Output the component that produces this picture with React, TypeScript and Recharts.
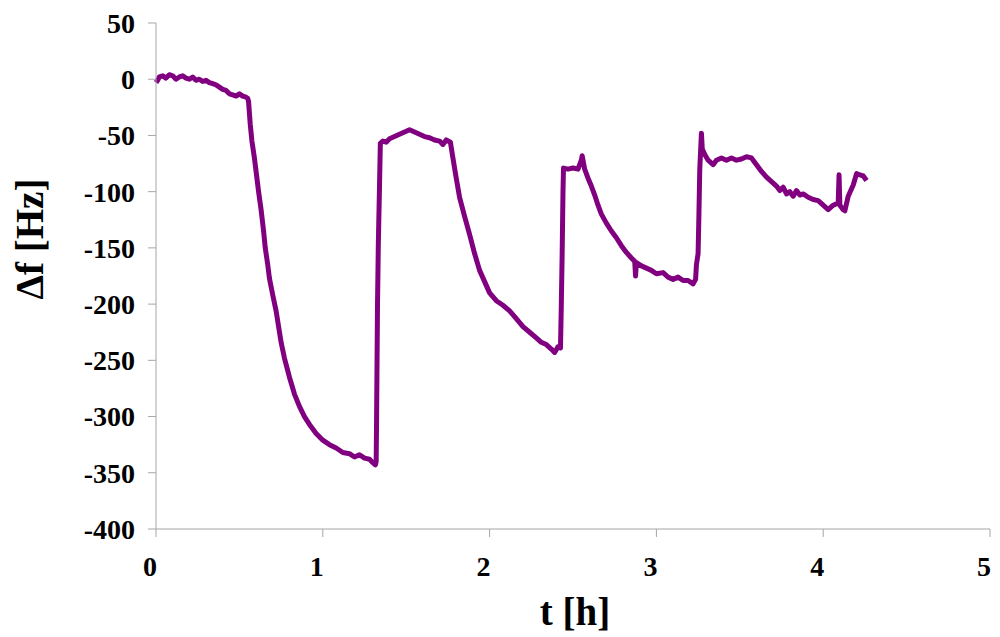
import React from "react";
import { LineChart, Line, XAxis, YAxis } from "recharts";

// time [h]
const tHours = [
  0, 0.01, 0.02, 0.04, 0.06, 0.08, 0.1, 0.12, 0.14, 0.16, 0.18, 0.2, 0.22, 0.24,
  0.26, 0.28, 0.3, 0.32, 0.34, 0.36, 0.38, 0.4, 0.42, 0.44, 0.46, 0.48, 0.5,
  0.52, 0.54, 0.55, 0.555, 0.565, 0.575, 0.59, 0.6, 0.615, 0.63, 0.645, 0.655,
  0.67, 0.68, 0.7, 0.72, 0.735, 0.75, 0.77, 0.8, 0.83, 0.86, 0.89, 0.92, 0.96,
  1.0, 1.04, 1.08, 1.12, 1.16, 1.19, 1.22, 1.25, 1.28, 1.3, 1.315, 1.32, 1.322,
  1.328, 1.333, 1.34, 1.345, 1.36, 1.38, 1.4, 1.43, 1.46, 1.49, 1.52, 1.55,
  1.58, 1.61, 1.64, 1.67, 1.7, 1.72, 1.74, 1.765, 1.78, 1.8, 1.82, 1.85, 1.88,
  1.91, 1.94, 1.97, 2.0, 2.04, 2.08, 2.12, 2.16, 2.2, 2.24, 2.28, 2.31, 2.34,
  2.37, 2.39, 2.41, 2.425, 2.43, 2.435, 2.44, 2.443, 2.47, 2.5, 2.53, 2.55,
  2.555, 2.57, 2.59, 2.61, 2.63, 2.65, 2.67, 2.7, 2.73, 2.76, 2.79, 2.82, 2.85,
  2.87, 2.875, 2.88, 2.91, 2.94, 2.97, 3.0, 3.04, 3.07, 3.1, 3.13, 3.16, 3.19,
  3.22, 3.235, 3.24, 3.25, 3.255, 3.26, 3.27, 3.275, 3.29, 3.31, 3.34, 3.36,
  3.39, 3.42, 3.45, 3.48, 3.51, 3.54, 3.57, 3.6, 3.63, 3.66, 3.69, 3.72, 3.74,
  3.76, 3.78, 3.8, 3.82, 3.84, 3.86, 3.88, 3.91, 3.94, 3.97, 4.0, 4.03, 4.06,
  4.09, 4.095, 4.1, 4.12, 4.13, 4.15, 4.18, 4.2, 4.22, 4.24, 4.26,
];

// frequency shift [Hz]
const deltaF = [
  -3, -1, 2, 3, 1, 4, 3, 0, 2, 3, 1, 0, 2, -1, 0, -2, -1, -3, -4, -5, -7, -9,
  -10, -13, -14, -15, -13, -15, -16, -17, -20, -40, -55, -70, -82, -100, -116,
  -135, -150, -165, -177, -192, -206, -220, -234, -248, -265, -280, -291, -300,
  -307, -315, -321, -325, -328, -332, -333, -336, -334, -337, -338, -341, -343,
  -340, -310, -200, -146, -95, -57, -55, -56, -53, -51, -49, -47, -45, -47, -49,
  -51, -52, -54, -55, -58, -54, -56, -70, -88, -105, -122, -138, -155, -170,
  -180, -190, -197, -201, -206, -213, -220, -225, -230, -234, -236, -240, -243,
  -238, -239, -200, -155, -100, -79, -80, -79, -80, -72, -68, -80, -88, -95,
  -103, -112, -120, -128, -135, -141, -148, -154, -159, -162, -175, -163, -166,
  -168, -170, -173, -172, -176, -178, -176, -179, -179, -182, -178, -165, -155,
  -120, -80, -48, -62, -67, -72, -76, -72, -70, -72, -70, -72, -71, -69, -70,
  -76, -82, -87, -91, -95, -99, -96, -102, -100, -104, -99, -103, -102, -105,
  -107, -108, -112, -116, -112, -110, -85, -112, -116, -117, -104, -94, -84, -85,
  -86, -90,
];

const xTicks = [0, 1, 2, 3, 4, 5];
const yTicks = [50, 0, -50, -100, -150, -200, -250, -300, -350, -400];

const data = tHours.map((t, i) => ({ t, df: deltaF[i] }));

const FONT = "'Liberation Serif', 'Times New Roman', serif";
const tickStyle = { fill: "#000", fontSize: 28, fontWeight: 700, fontFamily: FONT };

function YTitle(props: any) {
  const { viewBox } = props;
  const cx = 29;
  const cy = viewBox.y + viewBox.height / 2 - 37;
  return (
    <text
      x={cx}
      y={cy}
      transform={`rotate(-90, ${cx}, ${cy})`}
      textAnchor="middle"
      dominantBaseline="central"
      fontSize={39}
      fontWeight={700}
      fontFamily={FONT}
      fill="#000"
    >
      Δf [Hz]
    </text>
  );
}

function XTitle(props: any) {
  const { viewBox } = props;
  return (
    <text
      x={viewBox.x + viewBox.width / 2 + 2}
      y={611}
      textAnchor="middle"
      dominantBaseline="central"
      fontSize={39}
      fontWeight={700}
      fontFamily={FONT}
      fill="#000"
    >
      t [h]
    </text>
  );
}

export default function App() {
  return (
    <div style={{ position: "absolute", left: 0, top: 0, width: 1000, height: 637, background: "#fff" }}>
      <LineChart
        width={1000}
        height={637}
        data={data}
        margin={{ top: 23, right: 10, bottom: 0, left: 0 }}
      >
        <XAxis
          dataKey="t"
          type="number"
          domain={[0, 5]}
          ticks={xTicks}
          height={108}
          stroke="#a6a6a6"
          tickSize={8}
          tickMargin={19}
          tick={{ ...tickStyle, dx: -6 }}
          label={<XTitle />}
        />
        <YAxis
          type="number"
          domain={[-400, 50]}
          ticks={yTicks}
          width={156}
          stroke="#a6a6a6"
          tickSize={8}
          tickMargin={13}
          tick={tickStyle}
          label={<YTitle />}
        />
        <Line
          dataKey="df"
          type="linear"
          stroke="#800080"
          strokeWidth={5}
          dot={false}
          isAnimationActive={false}
          strokeLinejoin="round"
        />
      </LineChart>
    </div>
  );
}
